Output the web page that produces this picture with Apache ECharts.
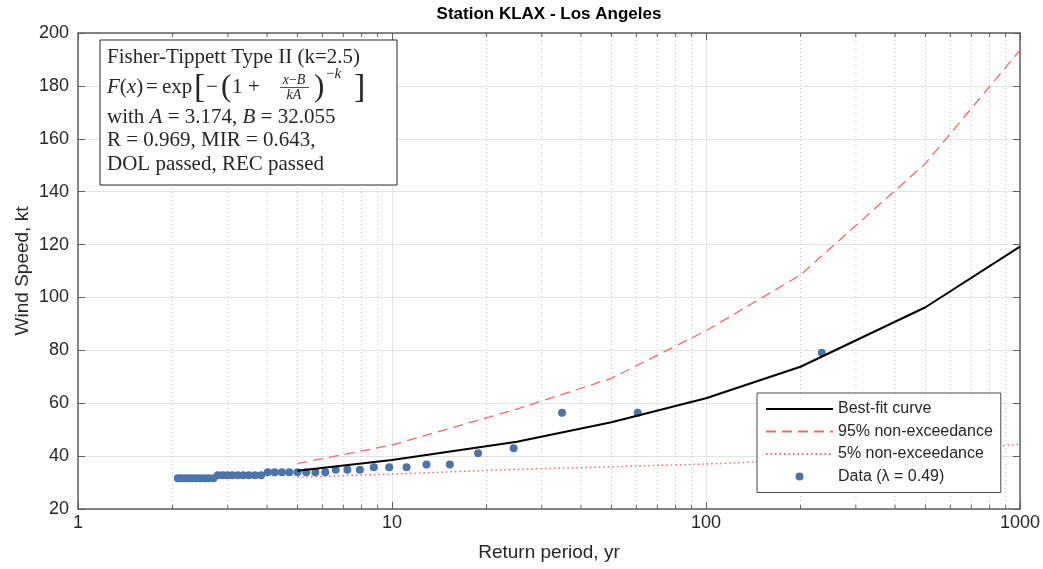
<!DOCTYPE html>
<html>
<head>
<meta charset="utf-8">
<title>Station KLAX - Los Angeles</title>
<script src="https://cdn.jsdelivr.net/npm/echarts@6/dist/echarts.min.js"></script>
<style>
  html, body { margin: 0; padding: 0; background: #fff; }
  #chart { width: 1043px; height: 569px; }
</style>
</head>
<body>
<div id="chart"></div>
<script>
// return periods (yr) where the fitted curves were drawn
const curveRP = [5, 10, 25, 50, 100, 200, 500, 1000];
const bestFit = [34.5, 38.5, 45.4, 52.8, 61.9, 73.8, 96.3, 119.2];
const upper95 = [37.2, 44.2, 57.8, 69.4, 87.4, 108.5, 150.7, 193.5];
const lower5 = [32.0, 33.2, 35.0, 36.0, 37.0, 38.5, 41.5, 44.5];

// observed maxima, at their plotting-position return period
const dataRP = [2.08, 2.13, 2.19, 2.25, 2.31, 2.38, 2.45, 2.53, 2.61, 2.70,
  2.79, 2.89, 2.99, 3.10, 3.23, 3.36, 3.50, 3.66, 3.83,
  4.02, 4.23, 4.46, 4.71, 5.00, 5.33, 5.70, 6.13,
  6.62, 7.21, 7.90, 8.75, 9.80, 11.13, 12.88, 15.29,
  18.8, 24.4, 34.8, 60.6, 233.7];
const dataSpeed = [31.6, 31.6, 31.6, 31.6, 31.6, 31.6, 31.6, 31.6, 31.6, 31.6,
  32.8, 32.8, 32.8, 32.8, 32.8, 32.8, 32.8, 32.8, 32.8,
  33.9, 33.9, 33.9, 33.9, 33.9, 33.9, 33.9, 33.9,
  34.8, 34.8, 34.8, 35.8, 35.8, 35.8, 36.8, 36.8,
  41.1, 43.0, 56.4, 56.4, 79.1];

// log-axis minor positions (dotted grid + short ticks)
const minorX = [2, 3, 4, 5, 6, 7, 8, 9, 20, 30, 40, 50, 60, 70, 80, 90,
  200, 300, 400, 500, 600, 700, 800, 900];
const yMin = 20, yMax = 200, yStep = 20;

const sans = '"Liberation Sans", Arial, sans-serif';
const serif = '"Liberation Serif", "DejaVu Serif", serif';
const axisColor = '#5e5e5e';
const textColor = '#262626';
const red = '#ff6666';

const chart = echarts.init(document.getElementById('chart'));

const f21 = '21px ' + serif;
const i21 = 'italic 21px ' + serif;

function txt(x, y, text, font, extra) {
  return Object.assign({
    type: 'text', x: x, y: y, z: 100,
    style: { text: text, font: font, fill: textColor, align: 'left', verticalAlign: 'middle' }
  }, extra || {});
}

const boxGraphic = [
  { type: 'rect', z: 99, shape: { x: 100, y: 40, width: 297, height: 145 },
    style: { fill: '#fff', stroke: '#262626', lineWidth: 1 } },
  txt(107, 57, 'Fisher-Tippett Type II (k=2.5)', f21),
  { type: 'text', x: 107, y: 87, z: 100,
    style: { text: '{i|F}({i|x})', font: f21, fill: textColor, verticalAlign: 'middle',
      rich: { i: { font: i21 } } } },
  txt(146, 87, '=', f21),
  txt(162, 87, 'exp', f21),
  txt(194, 88, '[', '34px ' + serif),
  txt(206, 87, '\u2212', f21),
  txt(221, 88, '(', '31px ' + serif),
  txt(232, 87, '1', f21),
  txt(248, 87, '+', f21),
  { type: 'text', x: 294, y: 80, z: 100,
    style: { text: '{i|x}\u2212{i|B}', font: '14px ' + serif, fill: textColor, align: 'center',
      verticalAlign: 'middle', rich: { i: { font: 'italic 14px ' + serif } } } },
  { type: 'line', z: 100, shape: { x1: 280, y1: 87.5, x2: 309, y2: 87.5 },
    style: { stroke: textColor, lineWidth: 0.8 } },
  { type: 'text', x: 294, y: 95, z: 100,
    style: { text: 'kA', font: 'italic 14px ' + serif, fill: textColor, align: 'center', verticalAlign: 'middle' } },
  txt(314, 88, ')', '31px ' + serif),
  { type: 'text', x: 326, y: 74, z: 100,
    style: { text: '\u2212{i|k}', font: '15px ' + serif, fill: textColor, verticalAlign: 'middle',
      rich: { i: { font: 'italic 15px ' + serif } } } },
  txt(354, 88, ']', '34px ' + serif),
  { type: 'text', x: 107, y: 117, z: 100,
    style: { text: 'with {i|A} = 3.174, {i|B} = 32.055', font: f21, fill: textColor,
      verticalAlign: 'middle', rich: { i: { font: i21 } } } },
  txt(107, 140, 'R = 0.969, MIR = 0.643,', f21),
  txt(107, 164, 'DOL passed, REC passed', f21)
];

const hideSymbol = { opacity: 0 };

const option = {
  animation: false,
  backgroundColor: '#fff',
  textStyle: { fontFamily: sans },
  title: {
    text: 'Station KLAX - Los Angeles',
    left: 549, top: 6, padding: 0, textAlign: 'center',
    textStyle: { fontFamily: sans, fontSize: 17, fontWeight: 'bold', color: '#000' }
  },
  grid: { left: 78, right: 22, top: 33, bottom: 60, containLabel: false },
  legend: {
    left: 757, top: 393,
    orient: 'vertical',
    backgroundColor: '#fff',
    borderColor: '#4a4a4a', borderWidth: 1,
    padding: [8, 8, 8, 8],
    itemWidth: 67, itemHeight: 8, itemGap: 6.5,
    textStyle: { fontFamily: sans, fontSize: 16, lineHeight: 16, color: textColor },
    data: [
      { name: 'Best-fit curve', itemStyle: hideSymbol },
      { name: '95% non-exceedance', itemStyle: hideSymbol },
      { name: '5% non-exceedance', itemStyle: hideSymbol },
      { name: 'Data (\u03bb = 0.49)' }
    ]
  },
  xAxis: [{
    type: 'log', logBase: 10, min: 1, max: 1000,
    name: 'Return period, yr', nameLocation: 'middle', nameGap: 34,
    nameTextStyle: { fontFamily: sans, fontSize: 19, color: textColor },
    axisLine: { lineStyle: { color: axisColor, width: 1.5 } },
    axisTick: { inside: true, length: 7, lineStyle: { color: axisColor } },
    axisLabel: { fontFamily: sans, fontSize: 18, color: textColor, margin: 5,
      formatter: v => String(Math.round(v)) },
    splitLine: { show: true, lineStyle: { color: '#e3e3e3', width: 1 } }
  }, {
    type: 'log', logBase: 10, min: 1, max: 1000, position: 'top',
    axisLine: { lineStyle: { color: axisColor, width: 1.5 } },
    axisTick: { inside: true, length: 7, lineStyle: { color: axisColor } },
    axisLabel: { show: false },
    splitLine: { show: false }
  }],
  yAxis: [{
    type: 'value', min: yMin, max: yMax, interval: yStep,
    name: 'Wind Speed, kt', nameLocation: 'middle', nameGap: 46, nameMoveOverlap: false,
    nameTextStyle: { fontFamily: sans, fontSize: 19, color: textColor },
    axisLine: { show: true, lineStyle: { color: axisColor, width: 1.5 } },
    axisTick: { show: true, inside: true, length: 7, lineStyle: { color: axisColor } },
    axisLabel: { fontFamily: sans, fontSize: 18, color: textColor, margin: 9 },
    splitLine: { show: true, lineStyle: { color: '#e3e3e3', width: 1 } }
  }, {
    type: 'value', min: yMin, max: yMax, interval: yStep, position: 'right',
    axisLine: { show: true, lineStyle: { color: axisColor, width: 1.5 } },
    axisTick: { show: true, inside: true, length: 7, lineStyle: { color: axisColor } },
    axisLabel: { show: false },
    splitLine: { show: false }
  }],
  graphic: boxGraphic,
  series: [
    {
      type: 'custom',
      silent: true,
      z: 1,
      data: minorX.map(v => [v, yMin]),
      encode: { x: 0, y: 1 },
      renderItem: function (params, api) {
        const v = api.value(0);
        const b = api.coord([v, yMin]);
        const t = api.coord([v, yMax]);
        return {
          type: 'group',
          children: [
            { type: 'line', shape: { x1: b[0], y1: b[1], x2: t[0], y2: t[1] },
              style: { stroke: '#c6c6c6', lineWidth: 1, lineDash: [1, 3] } },
            { type: 'line', shape: { x1: b[0], y1: b[1], x2: b[0], y2: b[1] - 4 },
              style: { stroke: axisColor, lineWidth: 1 } },
            { type: 'line', shape: { x1: t[0], y1: t[1], x2: t[0], y2: t[1] + 4 },
              style: { stroke: axisColor, lineWidth: 1 } }
          ]
        };
      }
    },
    {
      name: 'Best-fit curve', type: 'line', symbol: 'none', showSymbol: false,
      data: curveRP.map((t, i) => [t, bestFit[i]]),
      lineStyle: { color: '#000', width: 2 }, itemStyle: { color: '#000' }
    },
    {
      name: '95% non-exceedance', type: 'line', symbol: 'none', showSymbol: false,
      data: curveRP.map((t, i) => [t, upper95[i]]),
      lineStyle: { color: red, width: 1.3, type: [10, 6] }, itemStyle: { color: red }
    },
    {
      name: '5% non-exceedance', type: 'line', symbol: 'none', showSymbol: false,
      data: curveRP.map((t, i) => [t, lower5[i]]),
      lineStyle: { color: red, width: 1.5, type: [1.5, 3] }, itemStyle: { color: red }
    },
    {
      name: 'Data (\u03bb = 0.49)', type: 'scatter', symbol: 'circle', symbolSize: 8,
      data: dataRP.map((t, i) => [t, dataSpeed[i]]),
      itemStyle: { color: '#4a74ad', opacity: 1 }
    }
  ]
};

chart.setOption(option);
</script>
</body>
</html>
